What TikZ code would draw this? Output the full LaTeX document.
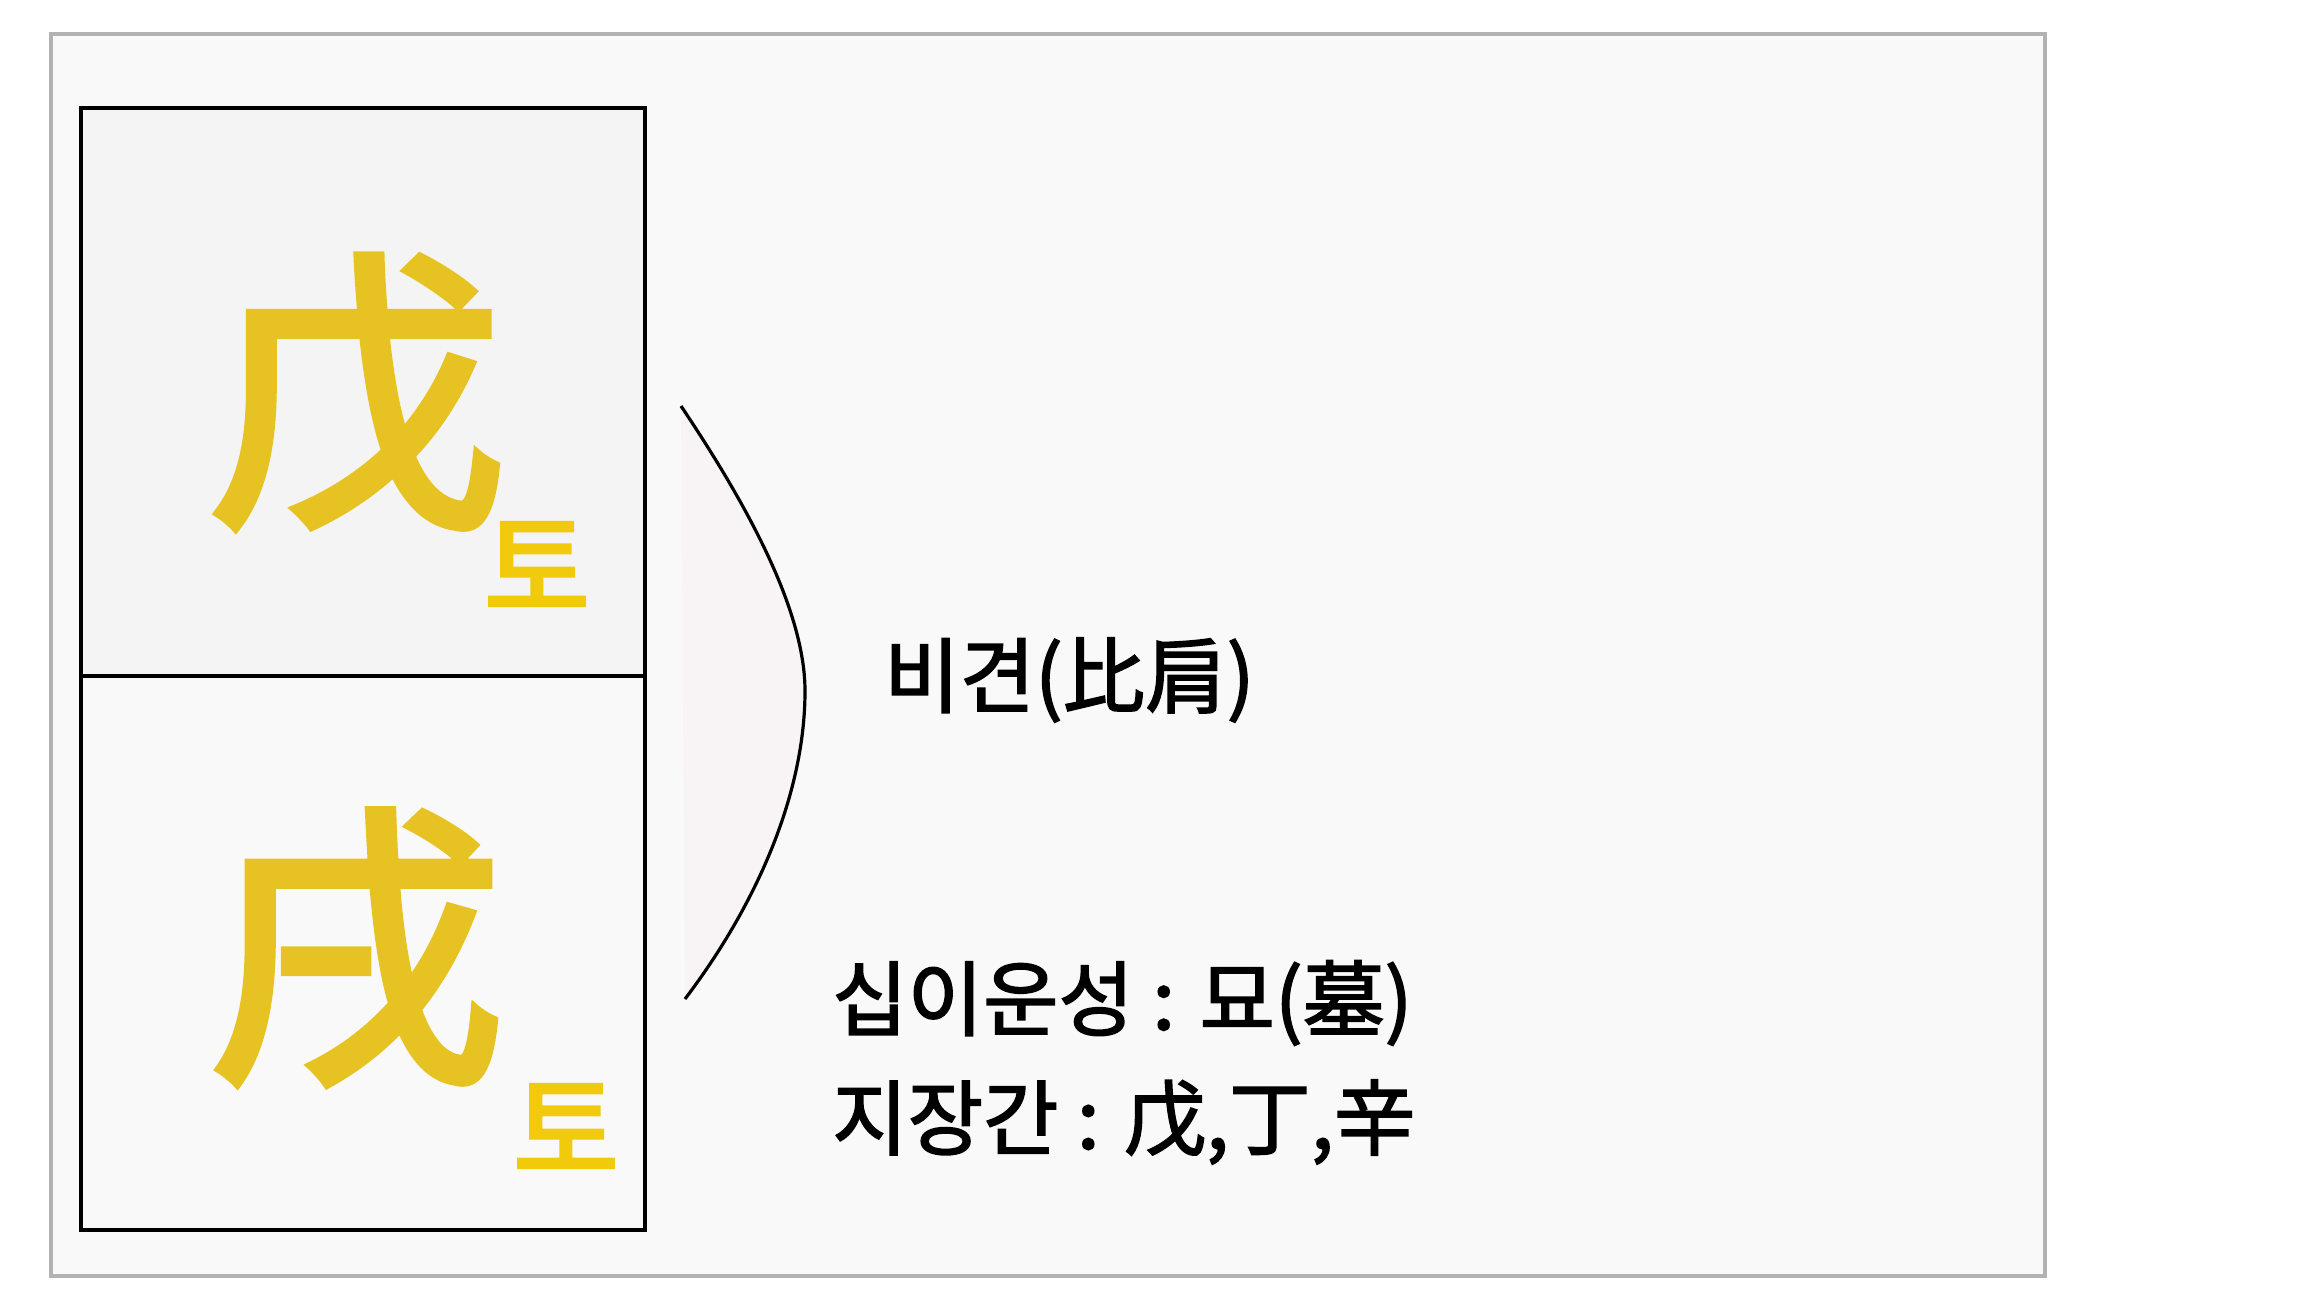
\documentclass[tikz,border=0pt]{standalone}
\usepackage{fontspec}
\newfontfamily\kr{Noto Sans CJK KR}[FakeBold=2]
\newfontfamily\krbig{Noto Sans CJK KR}[FakeBold=3]
\newfontfamily\krel{Noto Sans CJK KR}[FakeBold=3]
\definecolor{framegray}{RGB}{178,178,178}
\definecolor{bgpanel}{RGB}{249,249,249}
\definecolor{topcell}{RGB}{244,244,244}
\definecolor{ganjicol}{RGB}{230,195,35}
\definecolor{tocol}{RGB}{241,202,12}
\definecolor{pinkfill}{RGB}{248,244,245}
\begin{document}
\begin{tikzpicture}[x=1pt,y=-1pt,
  cellline/.style={draw=black, line width=4pt},
  bigchar/.style={font=\krbig\fontsize{296}{296}\selectfont, text=ganjicol, inner sep=0pt},
  elemchar/.style={font=\krel\fontsize{115}{115}\selectfont, text=tocol, inner sep=0pt},
  infotext/.style={font=\kr\fontsize{82}{82}\selectfont, text=black, inner sep=0pt, anchor=west}]
\useasboundingbox (0,0) rectangle (2303,1296);
\fill[white] (0,0) rectangle (2303,1296);
\draw[framegray, line width=4pt, fill=bgpanel] (50.5,34) rectangle (2045,1276);
\fill[topcell] (81,107.5) rectangle (645,676);
\draw[cellline] (81,107.5) rectangle (645,1230);
\draw[cellline] (81,676) -- (645,676);
\coordinate (arcTop) at (681,406);
\coordinate (arcMid) at (805,691);
\coordinate (arcBot) at (685,999);
\fill[pinkfill] (arcTop) .. controls (748,506) and (805,611) .. (arcMid) .. controls (805,790) and (760,900) .. (arcBot) -- cycle;
\draw[line width=3.2pt] (arcTop) .. controls (748,506) and (805,611) .. (arcMid) .. controls (805,790) and (760,900) .. (arcBot);
\node[bigchar] (stem) at (357,394) {戊};
\node[bigchar] (branch) at (356,949) {戌};
\node[elemchar] (stemEl) at (537,566) {토};
\node[elemchar] (branchEl) at (566,1128) {토};
\node[infotext] (shishen) at (884,680) {비견(比肩)};
\node[infotext] (unseong) at (832,1003) {십이운성 : 묘(墓)};
\node[infotext] (jijang) at (832,1122) {지장간 : 戊,丁,辛};
\end{tikzpicture}
\end{document}
